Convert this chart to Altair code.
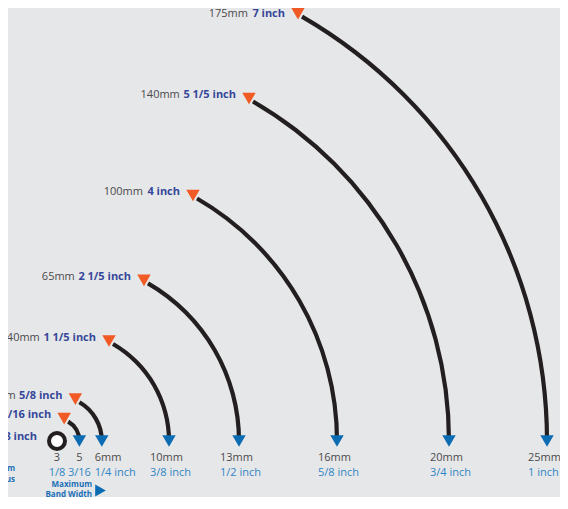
import math
import altair as alt
import pandas as pd

# ---- data ----
radius_mm = [3, 8, 16, 40, 65, 100, 140, 175]
radius_mm_label = ["3mm", "8mm", "16mm", "40mm", "65mm", "100mm", "140mm", "175mm"]
radius_inch_label = ["1/8 inch", "5/16 inch", "5/8 inch", "1 1/5 inch", "2 1/5 inch",
                     "4 inch", "5 1/5 inch", "7 inch"]
band_mm_label = ["3", "5", "6mm", "10mm", "13mm", "16mm", "20mm", "25mm"]
band_inch_label = ["1/8", "3/16", "1/4 inch", "3/8 inch", "1/2 inch", "5/8 inch",
                   "3/4 inch", "1 inch"]
note_band = ["Maximum", "Band Width"]
note_radius = ["Minimum", "Radius"]

df = pd.DataFrame({
    "r": radius_mm,
    "rmm": radius_mm_label,
    "rin": radius_inch_label,
    "bmm": band_mm_label,
    "bin": band_inch_label,
})

# ---- layout / style ----
W, H = 552, 489
PX = 2.8            # pixels per mm
CX, CY = 49, 433    # common centre of the arcs inside the plot area
TOP = CY / PX       # data value at the top edge
FONT = "Open Sans"
BG = "#e6e7e8"
INK = "#231f20"
ORANGE = "#f15a24"
BLUE_TRI = "#0b6bb3"
MM_GRAY = "#4a4a4c"
INCH_DARK = "#35479a"
INCH_LIGHT = "#2f86c6"
NOTE_BLUE = "#2070b8"

xs = alt.Scale(domain=[-CX / PX, (W - CX) / PX], nice=False, zero=False)
ys = alt.Scale(domain=[-(H - CY) / PX, TOP], nice=False, zero=False)
rs = alt.Scale(type="linear", domain=[0, 175], range=[0, 175 * PX], zero=True)

base = alt.Chart(df).transform_calculate(
    c0="0",
    ax="datum.r > 3 ? datum.r * 0.5 : 0",
    ay="datum.r > 3 ? datum.r * sqrt(3) / 2 : 0",
    bx="datum.r > 3 ? datum.r : 0",
    ro="datum.r + 0.75",
    ri="datum.r - 0.75",
).transform_calculate(
    # label anchors (pixel offsets converted to mm)
    tx=f"datum.ax + (datum.r > 3 ? -17 : -20) / {PX}",
    ty=f"min(datum.ay + (datum.r > 3 ? 6.5 : 4.5) / {PX}, {TOP} - 6 / {PX})",
).transform_calculate(
    # estimated width of the bold inch text, plus a space
    tmx=f"datum.tx - (23.4 + (length(datum.rin) - 4) * 4.8 + 4) / {PX}",
    blx=f"datum.r == 16 ? datum.bx - 7 / {PX} : datum.bx - 19 / {PX}",
)

X = lambda f: alt.X(f"{f}:Q", scale=xs, axis=None)
Y = lambda f: alt.Y(f"{f}:Q", scale=ys, axis=None)

arcs = base.transform_filter("datum.r > 3").mark_arc(
    theta=math.pi / 6, theta2=math.pi / 2, color=INK
).encode(
    x=X("c0"), y=Y("c0"),
    radius=alt.Radius("ro:Q", scale=rs),
    radius2="ri:Q",
)

TRI_TOP = "M-1.6,-1.316L0.4,-1.316L-0.6,0.416Z"
top_tri = base.transform_filter("datum.r > 3").mark_point(
    shape=TRI_TOP, filled=True, color=ORANGE, size=180, opacity=1
).encode(x=X("ax"), y=Y("ay"))

bot_tri = base.transform_filter("datum.r > 3").mark_point(
    shape="triangle-down", filled=True, color=BLUE_TRI, size=180, opacity=1
).encode(x=X("bx"), y=Y("c0"))

ring = base.transform_filter("datum.r == 3").mark_point(
    shape="circle", filled=True, fill="white", stroke=INK, strokeWidth=4,
    size=256, opacity=1
).encode(x=X("ax"), y=Y("ay"))

top_inch = base.mark_text(
    align="right", baseline="middle", font=FONT, fontSize=11,
    fontWeight="bold", color=INCH_DARK
).encode(x=X("tx"), y=Y("ty"), text="rin:N")

top_mm = base.mark_text(
    align="right", baseline="middle", font=FONT, fontSize=11, color=MM_GRAY
).encode(x=X("tmx"), y=Y("ty"), text="rmm:N")

# band-width labels: the two smallest centred, the rest left-aligned
small = base.transform_filter("datum.r <= 8")
large = base.transform_filter("datum.r > 8")

bot_mm_s = small.mark_text(
    align="center", baseline="middle", font=FONT, fontSize=11, color=MM_GRAY, dy=16.5
).encode(x=X("bx"), y=Y("c0"), text="bmm:N")
bot_in_s = small.mark_text(
    align="center", baseline="middle", font=FONT, fontSize=11, color=INCH_LIGHT, dy=31.5
).encode(x=X("bx"), y=Y("c0"), text="bin:N")
bot_mm_l = large.mark_text(
    align="left", baseline="middle", font=FONT, fontSize=11, color=MM_GRAY, dy=16.5
).encode(x=X("blx"), y=Y("c0"), text="bmm:N")
bot_in_l = large.mark_text(
    align="left", baseline="middle", font=FONT, fontSize=11, color=INCH_LIGHT, dy=31.5
).encode(x=X("blx"), y=Y("c0"), text="bin:N")

notes = []
for i, line in enumerate(note_band):
    notes.append(alt.Chart(pd.DataFrame({"t": [line]})).mark_text(
        align="right", baseline="alphabetic", font=FONT, fontSize=8, fontWeight="bold",
        color=NOTE_BLUE
    ).encode(x=alt.value(84), y=alt.value(478.5 + 10 * i), text="t:N"))
for i, line in enumerate(note_radius):
    notes.append(alt.Chart(pd.DataFrame({"t": [line]})).mark_text(
        align="right", baseline="alphabetic", font=FONT, fontSize=8, fontWeight="bold",
        color=NOTE_BLUE
    ).encode(x=alt.value(7), y=alt.value(463 + 10.5 * i), text="t:N"))

band_arrow = alt.Chart(pd.DataFrame({"t": ["arrow"]})).mark_point(
    shape="triangle-right", filled=True, color=BLUE_TRI, size=150, opacity=1
).encode(x=alt.value(92.5), y=alt.value(482.5))

chart = alt.layer(
    arcs, bot_tri, top_tri, ring, top_inch, top_mm,
    bot_mm_s, bot_in_s, bot_mm_l, bot_in_l, band_arrow, *notes
).properties(
    width=W, height=H, padding=0,
    autosize=alt.AutoSizeParams(type="none"),
    background=BG,
).configure_view(stroke=None)

chart.save("out.html", embed_options={"renderer": "svg", "actions": False})
